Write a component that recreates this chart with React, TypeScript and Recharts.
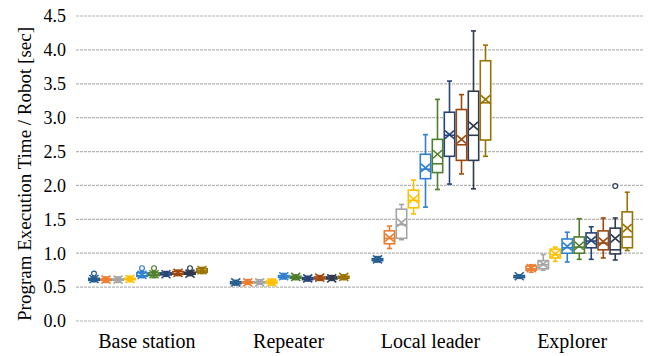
import React from "react";
import { ComposedChart, Bar, XAxis, YAxis, CartesianGrid, ReferenceArea } from "recharts";

const categories = ["Base station", "Repeater", "Local leader", "Explorer"];
const yTicks = [0, 0.5, 1, 1.5, 2, 2.5, 3, 3.5, 4, 4.5];

// one box per run: [min, q1, median, q3, max, mean]
const baseStation = [
  [0.58, 0.6, 0.61, 0.63, 0.65, 0.62],
  [0.57, 0.6, 0.61, 0.62, 0.65, 0.61],
  [0.57, 0.6, 0.61, 0.62, 0.65, 0.61],
  [0.58, 0.61, 0.62, 0.63, 0.66, 0.62],
  [0.64, 0.66, 0.67, 0.71, 0.73, 0.68],
  [0.64, 0.67, 0.68, 0.71, 0.73, 0.69],
  [0.66, 0.68, 0.69, 0.71, 0.73, 0.69],
  [0.67, 0.69, 0.7, 0.73, 0.75, 0.71],
  [0.67, 0.69, 0.7, 0.72, 0.74, 0.7],
  [0.7, 0.72, 0.74, 0.77, 0.79, 0.75],
];
const repeater = [
  [0.53, 0.55, 0.56, 0.58, 0.6, 0.57],
  [0.54, 0.56, 0.57, 0.58, 0.61, 0.57],
  [0.54, 0.56, 0.57, 0.58, 0.61, 0.57],
  [0.53, 0.56, 0.57, 0.59, 0.62, 0.57],
  [0.62, 0.64, 0.65, 0.67, 0.7, 0.66],
  [0.61, 0.63, 0.64, 0.66, 0.68, 0.65],
  [0.59, 0.61, 0.62, 0.64, 0.66, 0.63],
  [0.6, 0.62, 0.63, 0.65, 0.67, 0.64],
  [0.6, 0.62, 0.63, 0.65, 0.67, 0.63],
  [0.61, 0.63, 0.64, 0.66, 0.68, 0.65],
];
const localLeader = [
  [0.87, 0.89, 0.9, 0.92, 0.95, 0.91],
  [1.07, 1.14, 1.22, 1.33, 1.4, 1.23],
  [1.2, 1.22, 1.42, 1.65, 1.72, 1.45],
  [1.58, 1.67, 1.78, 1.93, 2.08, 1.8],
  [1.68, 2.1, 2.24, 2.46, 2.75, 2.26],
  [1.94, 2.19, 2.32, 2.68, 3.27, 2.46],
  [2.02, 2.43, 2.74, 3.08, 3.54, 2.75],
  [2.17, 2.37, 2.6, 3.12, 3.34, 2.68],
  [1.95, 2.37, 2.74, 3.39, 4.28, 2.88],
  [2.43, 2.67, 3.22, 3.84, 4.07, 3.27],
];
const explorer = [
  [0.63, 0.64, 0.65, 0.67, 0.68, 0.66],
  [0.72, 0.75, 0.77, 0.81, 0.83, 0.78],
  [0.75, 0.77, 0.83, 0.89, 0.98, 0.84],
  [0.88, 0.93, 0.98, 1.06, 1.09, 0.99],
  [0.87, 1.0, 1.08, 1.21, 1.31, 1.1],
  [0.91, 1.0, 1.09, 1.24, 1.51, 1.11],
  [0.91, 1.08, 1.18, 1.3, 1.39, 1.19],
  [0.93, 1.05, 1.15, 1.33, 1.52, 1.17],
  [0.9, 0.99, 1.05, 1.37, 1.52, 1.22],
  [1.04, 1.08, 1.24, 1.61, 1.9, 1.37],
];
// [category, run, value]
const outliers = [
  [0, 0, 0.7],
  [0, 4, 0.78],
  [0, 5, 0.78],
  [0, 8, 0.78],
  [3, 8, 1.99],
];

const colors = [
  "#255E91", "#ED7D31", "#A5A5A5", "#FFC000", "#2F80D0",
  "#4F7F2A", "#264478", "#9E480E", "#2F3B4F", "#997300",
];
const font = "Liberation Serif, serif";

const boxTables = [baseStation, repeater, localLeader, explorer];
const rows = categories.map((name, c) => {
  const row: any = { name };
  boxTables[c].forEach((box, s) => {
    const out = outliers.filter((o) => o[0] === c && o[1] === s).map((o) => o[2]);
    row[`r${s}`] = { box, out };
  });
  return row;
});

const extent = (d: any) => [Math.min(d.box[0], ...d.out), Math.max(d.box[4], ...d.out)];

function BoxShape(props: any) {
  const { x, y, width, height, payload, run } = props;
  const d = payload[`r${run}`];
  const color = colors[run];
  const [lo, hi] = extent(d);
  const top = Math.min(y, y + height);
  const bottom = Math.max(y, y + height);
  const py = (v: number) => bottom - ((v - lo) / (hi - lo)) * (bottom - top);
  const [mn, q1, med, q3, mx, mean] = d.box;
  const cx = x + width / 2;
  const bw = width - 1.6;
  const cap = 2.5;
  const my = py(mean);
  return (
    <g stroke={color} strokeWidth={1.6} fill="none">
      <line x1={cx} x2={cx} y1={py(mx)} y2={py(q3)} />
      <line x1={cx} x2={cx} y1={py(q1)} y2={py(mn)} />
      <line x1={cx - cap} x2={cx + cap} y1={py(mx)} y2={py(mx)} />
      <line x1={cx - cap} x2={cx + cap} y1={py(mn)} y2={py(mn)} />
      <rect x={cx - bw / 2} y={py(q3)} width={bw} height={py(q1) - py(q3)} fill="#fff" />
      <line x1={cx - bw / 2} x2={cx + bw / 2} y1={py(med)} y2={py(med)} />
      <line x1={cx - 4.5} x2={cx + 4.5} y1={my - 4} y2={my + 4} />
      <line x1={cx - 4.5} x2={cx + 4.5} y1={my + 4} y2={my - 4} />
      {d.out.map((v: number, i: number) => (
        <circle key={i} cx={cx} cy={py(v)} r={2.4} fill="#fff" strokeWidth={1.2} />
      ))}
    </g>
  );
}

const yTitle = () => (
  <text
    x={24}
    y={174}
    transform="rotate(-90 24 174)"
    textAnchor="middle"
    dominantBaseline="central"
    style={{ fontFamily: font, fontSize: 19 }}
    fill="#000"
  >
    Program Execution Time / Robot [sec]
  </text>
);

const XTick = (p: any) => (
  <text x={p.x} y={p.y} dy="0.71em" textAnchor="middle" fill="#000" style={{ fontFamily: font, fontSize: 20 }}>
    {p.payload.value}
  </text>
);

const YTick = (p: any) => (
  <text x={p.x} y={p.y} dy="0.35em" textAnchor="end" fill="#000" style={{ fontFamily: font, fontSize: 18 }}>
    {Number(p.payload.value).toFixed(1)}
  </text>
);

export default function App() {
  return (
    <div style={{ position: "absolute", left: 0, top: 0, background: "#fff" }}>
      <ComposedChart
        width={655}
        height={356}
        data={rows}
        margin={{ top: 16, right: 12, bottom: 0, left: 0 }}
        barCategoryGap={12}
        barGap={0}
      >
        <CartesianGrid vertical={false} stroke="#b4b4b4" strokeDasharray="3 1" strokeWidth={1.2} />
        <XAxis
          dataKey="name"
          height={35}
          axisLine={false}
          tickLine={false}
          tickSize={0}
          tickMargin={13}
          tick={XTick}
        />
        <YAxis
          width={76}
          domain={[0, 4.5]}
          ticks={yTicks}
          interval={0}
          axisLine={false}
          tickLine={false}
          tickSize={0}
          tickMargin={10}
          tick={YTick}
          label={{ content: yTitle }}
        />
        {colors.map((c, i) => (
          <Bar
            key={i}
            dataKey={(row: any) => extent(row[`r${i}`])}
            fill={c}
            isAnimationActive={false}
            shape={(p: any) => <BoxShape {...p} run={i} />}
          />
        ))}
        <ReferenceArea fill="none" stroke="#8c8c8c" strokeWidth={1.5} ifOverflow="visible" />
      </ComposedChart>
    </div>
  );
}
